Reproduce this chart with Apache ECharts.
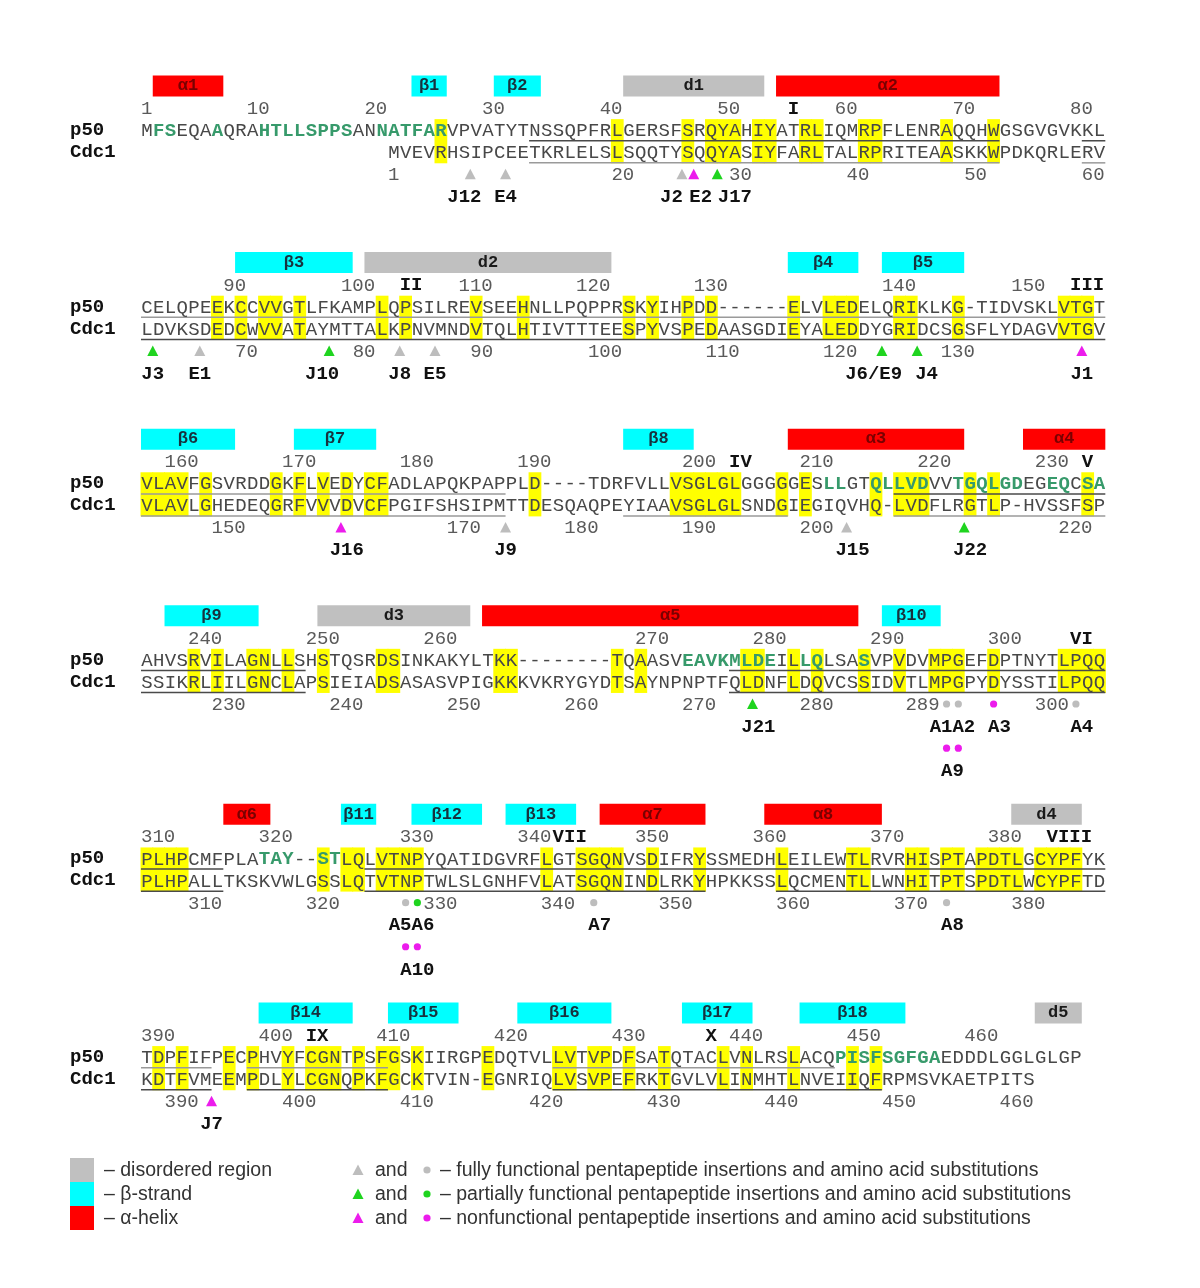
<!DOCTYPE html>
<html>
<head>
<meta charset="utf-8">
<title>p50 / Cdc1 alignment</title>
<script src="https://cdn.jsdelivr.net/npm/echarts/dist/echarts.min.js"></script>
<style>
  html, body { margin: 0; padding: 0; background: #ffffff; }
  #chart { width: 1200px; height: 1288px; }
</style>
</head>
<body>
<div id="chart"></div>
<script>
  // ---- alignment, one string per block of 82 columns ----
  const P50_SEQ = [
    'MFSEQAAQRAHTLLSPPSANNATFARVPVATYTNSSQPFRLGERSFSRQYAHIYATRLIQMRPFLENRAQQHWGSGVGVKKL',
    'CELQPEEKCCVVGTLFKAMPLQPSILREVSEEHNLLPQPPRSKYIHPDD------ELVLEDELQRIKLKG-TIDVSKLVTGT',
    'VLAVFGSVRDDGKFLVEDYCFADLAPQKPAPPLD----TDRFVLLVSGLGLGGGGGESLLGTQLLVDVVTGQLGDEGEQCSA',
    'AHVSRVILAGNLLSHSTQSRDSINKAKYLTKK--------TQAASVEAVKMLDEILLQLSASVPVDVMPGEFDPTNYTLPQQ',
    'PLHPCMFPLATAY--STLQLVTNPYQATIDGVRFLGTSGQNVSDIFRYSSMEDHLEILEWTLRVRHISPTAPDTLGCYPFYK',
    'TDPFIFPECPHVYFCGNTPSFGSKIIRGPEDQTVLLVTVPDFSATQTACLVNLRSLACQPISFSGFGAEDDDLGGLGLGP'
  ];
  const CDC1_SEQ = [
    '                     MVEVRHSIPCEETKRLELSLSQQTYSQQYASIYFARLTALRPRITEAASKKWPDKQRLERV',
    'LDVKSDEDCWVVATAYMTTALKPNVMNDVTQLHTIVTTTEESPYVSPEDAASGDIEYALEDDYGRIDCSGSFLYDAGVVTGV',
    'VLAVLGHEDEQGRFVVVDVCFPGIFSHSIPMTTDESQAQPEYIAAVSGLGLSNDGIEGIQVHQ-LVDFLRGTLP-HVSSFSP',
    'SSIKRLIILGNCLAPSIEIADSASASVPIGKKKVKRYGYDTSAYNPNPTFQLDNFLDQVCSSIDVTLMPGPYDYSSTILPQQ',
    'PLHPALLTKSKVWLGSSLQTVTNPTWLSLGNHFVLATSGQNINDLRKYHPKKSSLQCMENTLLWNHITPTSPDTLWCYPFTD',
    'KDTFVMEEMPDLYLCGNQPKFGCKTVIN-EGNRIQLVSVPEFRKTGVLVLINMHTLNVEIIQFRPMSVKAETPITS'
  ];

  // yellow columns (conserved), per block
  const CONSERVED = [
    [25, 40, 46, 48, 49, 50, 52, 53, 56, 57, 61, 62, 68, 72],
    [6, 8, 10, 11, 13, 20, 22, 28, 32, 41, 43, 46, 48, 55, 58, 59, 60, 64, 65, 69, 78, 79, 80],
    [0, 1, 2, 3, 5, 11, 13, 15, 17, 19, 20, 33, 45, 46, 47, 48, 49, 50, 54, 56, 62, 64, 65, 66, 70, 72, 80],
    [4, 6, 9, 10, 12, 15, 20, 21, 30, 31, 40, 42, 51, 52, 55, 57, 61, 64, 67, 68, 69, 72, 78, 79, 80, 81],
    [0, 1, 2, 3, 15, 17, 18, 20, 21, 22, 23, 34, 37, 38, 39, 40, 43, 47, 54, 60, 61, 65, 66, 68, 69, 71, 72, 73, 74, 76, 77, 78, 79],
    [1, 3, 7, 9, 12, 14, 15, 16, 18, 20, 21, 23, 29, 35, 36, 38, 39, 41, 44, 49, 51, 55, 60, 62]
  ];

  // p50 residues printed in bold green, per block
  const GREEN_RES = [
    [1, 2, 6, 10, 11, 12, 13, 14, 15, 16, 17, 20, 21, 22, 23, 24, 25],
    [],
    [58, 59, 62, 63, 64, 65, 66, 69, 70, 71, 72, 73, 74, 77, 78, 80, 81],
    [46, 47, 48, 49, 50, 51, 52, 53, 56, 57, 61],
    [10, 11, 12, 15, 16],
    [59, 60, 61, 62, 63, 64, 65, 66, 67]
  ];

  // secondary structure: [block, first column, end column, kind, name]
  const STRUCTURE = [
    [0, 1, 7, 'a', 'α1'], [0, 23, 26, 'b', 'β1'], [0, 30, 34, 'b', 'β2'], [0, 41, 53, 'd', 'd1'], [0, 54, 73, 'a', 'α2'],
    [1, 8, 18, 'b', 'β3'], [1, 19, 40, 'd', 'd2'], [1, 55, 61, 'b', 'β4'], [1, 63, 70, 'b', 'β5'],
    [2, 0, 8, 'b', 'β6'], [2, 13, 20, 'b', 'β7'], [2, 41, 47, 'b', 'β8'], [2, 55, 70, 'a', 'α3'], [2, 75, 82, 'a', 'α4'],
    [3, 2, 10, 'b', 'β9'], [3, 15, 28, 'd', 'd3'], [3, 29, 61, 'a', 'α5'], [3, 63, 68, 'b', 'β10'],
    [4, 7, 11, 'a', 'α6'], [4, 17, 20, 'b', 'β11'], [4, 23, 29, 'b', 'β12'], [4, 31, 37, 'b', 'β13'],
    [4, 39, 48, 'a', 'α7'], [4, 53, 63, 'a', 'α8'], [4, 74, 80, 'd', 'd4'],
    [5, 10, 18, 'b', 'β14'], [5, 21, 27, 'b', 'β15'], [5, 32, 40, 'b', 'β16'], [5, 46, 52, 'b', 'β17'],
    [5, 56, 65, 'b', 'β18'], [5, 76, 80, 'd', 'd5']
  ];

  // underlines: [block, sequence (0 p50, 1 Cdc1), first column, end column, tone]
  const UNDERLINES = [
    [0, 0, 33, 73, 'dark'], [0, 0, 80, 82, 'dark'], [0, 1, 33, 73, 'grey'], [0, 1, 80, 82, 'grey'],
    [1, 0, 0, 82, 'grey'], [1, 1, 0, 82, 'dark'],
    [2, 0, 0, 31, 'grey'], [2, 1, 0, 31, 'grey'], [2, 1, 41, 55, 'grey'], [2, 0, 64, 82, 'dark'], [2, 1, 64, 82, 'grey'],
    [3, 0, 0, 14, 'dark'], [3, 1, 0, 14, 'dark'], [3, 0, 50, 82, 'dark'], [3, 1, 50, 82, 'dark'],
    [4, 0, 0, 7, 'dark'], [4, 1, 0, 7, 'dark'], [4, 0, 19, 82, 'dark'], [4, 1, 19, 48, 'dark'], [4, 1, 54, 82, 'dark'],
    [5, 0, 0, 6, 'grey'], [5, 1, 0, 6, 'dark'], [5, 0, 9, 21, 'grey'], [5, 1, 9, 21, 'dark'],
    [5, 0, 35, 59, 'grey'], [5, 1, 35, 63, 'dark']
  ];

  // residue numbers printed above p50 and below Cdc1
  const P50_TICKS = [1, 10, 20, 30, 40, 50, 60, 70, 80, 90, 100, 110, 120, 130, 140, 150, 160, 170, 180,
    190, 200, 210, 220, 230, 240, 250, 260, 270, 280, 290, 300, 310, 320, 330, 340, 350, 360, 370, 380,
    390, 400, 410, 420, 430, 440, 450, 460];
  const CDC1_TICKS = [1, 20, 30, 40, 50, 60, 70, 80, 90, 100, 110, 120, 130, 150, 170, 180, 190, 200, 220,
    230, 240, 250, 260, 270, 280, 289, 300, 310, 320, 330, 340, 350, 360, 370, 380, 390, 400, 410, 420,
    430, 440, 450, 460];
  // motifs I-X, at p50 residue
  const MOTIFS = [['I', 56], ['II', 105], ['III', 155], ['IV', 204], ['V', 234], ['VI', 307],
    ['VII', 343], ['VIII', 385], ['IX', 404], ['X', 438]];

  // mutants: [block, column, row in block, shape, phenotype]
  const MARKERS = [
    [0, 28, 4, 'tri', 'full'], [0, 31, 4, 'tri', 'full'], [0, 46, 4, 'tri', 'full'], [0, 47, 4, 'tri', 'non'], [0, 49, 4, 'tri', 'part'],
    [1, 1, 4, 'tri', 'part'], [1, 5, 4, 'tri', 'full'], [1, 16, 4, 'tri', 'part'], [1, 22, 4, 'tri', 'full'], [1, 25, 4, 'tri', 'full'],
    [1, 63, 4, 'tri', 'part'], [1, 66, 4, 'tri', 'part'], [1, 80, 4, 'tri', 'non'],
    [2, 17, 4, 'tri', 'non'], [2, 31, 4, 'tri', 'full'], [2, 60, 4, 'tri', 'full'], [2, 70, 4, 'tri', 'part'],
    [3, 52, 4, 'tri', 'part'], [3, 68.5, 4, 'dot', 'full'], [3, 69.5, 4, 'dot', 'full'], [3, 72.5, 4, 'dot', 'non'],
    [3, 79.5, 4, 'dot', 'full'], [3, 68.5, 6, 'dot', 'non'], [3, 69.5, 6, 'dot', 'non'],
    [4, 22.5, 4, 'dot', 'full'], [4, 23.5, 4, 'dot', 'part'], [4, 38.5, 4, 'dot', 'full'], [4, 68.5, 4, 'dot', 'full'],
    [4, 22.5, 6, 'dot', 'non'], [4, 23.5, 6, 'dot', 'non'],
    [5, 6, 4, 'tri', 'non']
  ];
  const MARKER_NAMES = [
    [0, 27.5, 5, 'J12'], [0, 31, 5, 'E4'], [0, 45.1, 5, 'J2'], [0, 47.6, 5, 'E2'], [0, 50.5, 5, 'J17'],
    [1, 1, 5, 'J3'], [1, 5, 5, 'E1'], [1, 15.4, 5, 'J10'], [1, 22, 5, 'J8'], [1, 25, 5, 'E5'],
    [1, 62.3, 5, 'J6/E9'], [1, 66.8, 5, 'J4'], [1, 80, 5, 'J1'],
    [2, 17.5, 5, 'J16'], [2, 31, 5, 'J9'], [2, 60.5, 5, 'J15'], [2, 70.5, 5, 'J22'],
    [3, 52.5, 5, 'J21'], [3, 69, 5, 'A1A2'], [3, 73, 5, 'A3'], [3, 80, 5, 'A4'], [3, 69, 7, 'A9'],
    [4, 23, 5, 'A5A6'], [4, 39, 5, 'A7'], [4, 69, 5, 'A8'], [4, 23.5, 7, 'A10'],
    [5, 6, 5, 'J7']
  ];

  const LEGEND_REGIONS = [['d', 'disordered region'], ['b', 'β-strand'], ['a', 'α-helix']];
  const LEGEND_MARKERS = [
    ['full', 'fully functional pentapeptide insertions and amino acid substitutions'],
    ['part', 'partially functional pentapeptide insertions and amino acid substitutions'],
    ['non', 'nonfunctional pentapeptide insertions and amino acid substitutions']
  ];

  // ---- layout ----
  const N_COLS = 82, N_ROWS = 49;
  const COL_PX = 11.76, ROW_PX = 22.07;
  const BLOCK_ROW = [0, 8, 16, 24, 33, 42];
  const R_SS = 0, R_TOP = 1, R_P50 = 2, R_CDC1 = 3, R_BOT = 4;

  const SS_FILL = { a: '#ff0000', b: '#00ffff', d: '#c0c0c0' };
  const SS_TEXT = { a: '#7a0000', b: '#17323e', d: '#1a1a1a' };
  const MARK_COLOR = { full: '#bdbdbd', part: '#1fd41f', non: '#ec1cec' };
  const LINE_COLOR = { dark: '#4a4a4a', grey: '#9a9a9a' };
  const SEQ_TXT = '#484848', GREEN_TXT = '#379a6b', NUM_TXT = '#5a5a5a';
  const MONO = '"Liberation Mono", "DejaVu Sans Mono", monospace';
  const SANS = '"Liberation Sans", Arial, sans-serif';

  const rowKeys = [], rowNames = [];
  for (let r = 0; r < N_ROWS; r++) { rowKeys.push('r' + r); rowNames.push(''); }
  BLOCK_ROW.forEach(b => { rowNames[b + R_P50] = 'p50'; rowNames[b + R_CDC1] = 'Cdc1'; });

  // residue number -> [block, column]
  function residueColumns(seqs) {
    const pos = {};
    let n = 1;
    seqs.forEach((s, b) => {
      for (let c = 0; c < s.length; c++) {
        if (/[A-Z]/.test(s[c])) { pos[n] = [b, c]; n++; }
      }
    });
    return pos;
  }
  const p50Pos = residueColumns(P50_SEQ);
  const cdc1Pos = residueColumns(CDC1_SEQ);

  const residues = [];
  [P50_SEQ, CDC1_SEQ].forEach((seqs, k) => {
    seqs.forEach((s, b) => {
      for (let c = 0; c < s.length; c++) {
        if (s[c] === ' ') continue;
        residues.push({
          x: c + 0.5, row: BLOCK_ROW[b] + (k ? R_CDC1 : R_P50), ch: s[c],
          green: k === 0 && GREEN_RES[b].indexOf(c) >= 0
        });
      }
    });
  });

  const cells = [];
  CONSERVED.forEach((cols, b) => cols.forEach(c => cells.push({ x: c, row: BLOCK_ROW[b] + R_P50 })));

  const lines = UNDERLINES.map(u => ({ x0: u[2], x1: u[3], row: BLOCK_ROW[u[0]] + (u[1] ? R_CDC1 : R_P50), tone: u[4] }));

  const bars = STRUCTURE.map(s => ({ x0: s[1], x1: s[2], row: BLOCK_ROW[s[0]] + R_SS, kind: s[3], name: s[4] }));

  const numbers = [];
  P50_TICKS.forEach(n => {
    const bc = p50Pos[n];
    numbers.push({ x: bc[1], row: BLOCK_ROW[bc[0]] + R_TOP, text: String(n), bold: false });
  });
  CDC1_TICKS.forEach(n => {
    const bc = cdc1Pos[n];
    numbers.push({ x: bc[1], row: BLOCK_ROW[bc[0]] + R_BOT, text: String(n), bold: false });
  });
  MOTIFS.forEach(m => {
    const bc = p50Pos[m[1]];
    numbers.push({ x: bc[1], row: BLOCK_ROW[bc[0]] + R_TOP, text: m[0], bold: true });
  });

  const marks = MARKERS.map(m => ({ x: m[1], row: BLOCK_ROW[m[0]] + m[2], shape: m[3], cls: m[4] }));
  const names = MARKER_NAMES.map(m => ({ x: m[1], row: BLOCK_ROW[m[0]] + m[2], text: m[3] }));

  function txt(text, x, y, font, fill, align) {
    return {
      type: 'text',
      style: {
        text: text, x: x, y: y, font: font, fill: fill,
        textAlign: align, align: align, textVerticalAlign: 'middle', verticalAlign: 'middle'
      }
    };
  }

  function triangle(x, y, fill) {
    return { type: 'polygon', shape: { points: [[x - 5.5, y + 5], [x + 5.5, y + 5], [x, y - 5.5]] }, style: { fill: fill } };
  }

  function customSeries(name, items, z, render) {
    return {
      type: 'custom', name: name, silent: true, clip: false, z: z,
      encode: { x: 0, y: 1 },
      data: items.map(d => [d.x !== undefined ? d.x : d.x0, d.row]),
      renderItem: (params, api) => render(items[params.dataIndex], api)
    };
  }

  const series = [
    customSeries('structure', bars, 2, (d, api) => {
      const p = api.coord([d.x0, d.row]), q = api.coord([d.x1, d.row]);
      return {
        type: 'group', children: [
          { type: 'rect', shape: { x: p[0], y: p[1] - 10.5, width: q[0] - p[0], height: 21 }, style: { fill: SS_FILL[d.kind] } },
          txt(d.name, (p[0] + q[0]) / 2, p[1], 'bold 17px ' + MONO, SS_TEXT[d.kind], 'center')
        ]
      };
    }),
    customSeries('conserved', cells, 1, (d, api) => {
      const p = api.coord([d.x, d.row]), q = api.coord([d.x + 1, d.row]);
      const h = api.size([0, 1])[1];
      return { type: 'rect', shape: { x: p[0] - 0.5, y: p[1] - h * 0.5, width: q[0] - p[0] + 1, height: h * 2 }, style: { fill: '#ffff00' } };
    }),
    customSeries('underline', lines, 3, (d, api) => {
      const p = api.coord([d.x0, d.row]), q = api.coord([d.x1, d.row]);
      const h = api.size([0, 1])[1];
      const y = p[1] + h * 0.48;
      return { type: 'line', shape: { x1: p[0], y1: y, x2: q[0], y2: y }, style: { stroke: LINE_COLOR[d.tone], lineWidth: 1.5 } };
    }),
    customSeries('residues', residues, 4, (d, api) => {
      const p = api.coord([d.x, d.row]);
      return txt(d.ch, p[0], p[1] + 1, (d.green ? 'bold ' : '') + '19px ' + MONO, d.green ? GREEN_TXT : SEQ_TXT, 'center');
    }),
    customSeries('numbers', numbers, 4, (d, api) => {
      const p = api.coord([d.x, d.row]);
      return d.bold
        ? txt(d.text, p[0], p[1] + 1, 'bold 19px ' + MONO, '#111111', 'left')
        : txt(d.text, p[0], p[1] + 1, '19px ' + MONO, NUM_TXT, 'left');
    }),
    customSeries('markers', marks, 4, (d, api) => {
      const p = api.coord([d.x, d.row]);
      return d.shape === 'tri'
        ? triangle(p[0], p[1], MARK_COLOR[d.cls])
        : { type: 'circle', shape: { cx: p[0], cy: p[1], r: 3.6 }, style: { fill: MARK_COLOR[d.cls] } };
    }),
    customSeries('marker names', names, 4, (d, api) => {
      const p = api.coord([d.x, d.row]);
      return txt(d.text, p[0], p[1] + 1, 'bold 19px ' + MONO, '#111111', 'center');
    })
  ];

  // legend
  const graphic = [];
  LEGEND_REGIONS.forEach((r, i) => {
    const y = 1158 + i * 24;
    graphic.push({ type: 'rect', shape: { x: 70, y: y, width: 24, height: 24 }, style: { fill: SS_FILL[r[0]] } });
    graphic.push(txt('– ' + r[1], 104, y + 13, '19.5px ' + SANS, '#333333', 'left'));
  });
  LEGEND_MARKERS.forEach((m, i) => {
    const y = 1170 + i * 24;
    graphic.push(triangle(358, y, MARK_COLOR[m[0]]));
    graphic.push(txt('and', 375, y + 1, '19.5px ' + SANS, '#333333', 'left'));
    graphic.push({ type: 'circle', shape: { cx: 427, cy: y, r: 3.6 }, style: { fill: MARK_COLOR[m[0]] } });
    graphic.push(txt('– ' + m[1], 440, y + 1, '19.5px ' + SANS, '#333333', 'left'));
  });

  const chart = echarts.init(document.getElementById('chart'));
  chart.setOption({
    animation: false,
    backgroundColor: '#ffffff',
    grid: { left: 141, top: 75, width: N_COLS * COL_PX, height: N_ROWS * ROW_PX },
    xAxis: { type: 'value', min: 0, max: N_COLS, show: false },
    yAxis: {
      type: 'category', inverse: true, data: rowKeys,
      axisLine: { show: false }, axisTick: { show: false }, splitLine: { show: false },
      axisLabel: {
        interval: 0, align: 'left', margin: 71,
        formatter: (v, i) => rowNames[i],
        fontFamily: 'Liberation Mono', fontWeight: 'bold', fontSize: 19, color: '#111111'
      }
    },
    series: series,
    graphic: graphic
  });
</script>
</body>
</html>
